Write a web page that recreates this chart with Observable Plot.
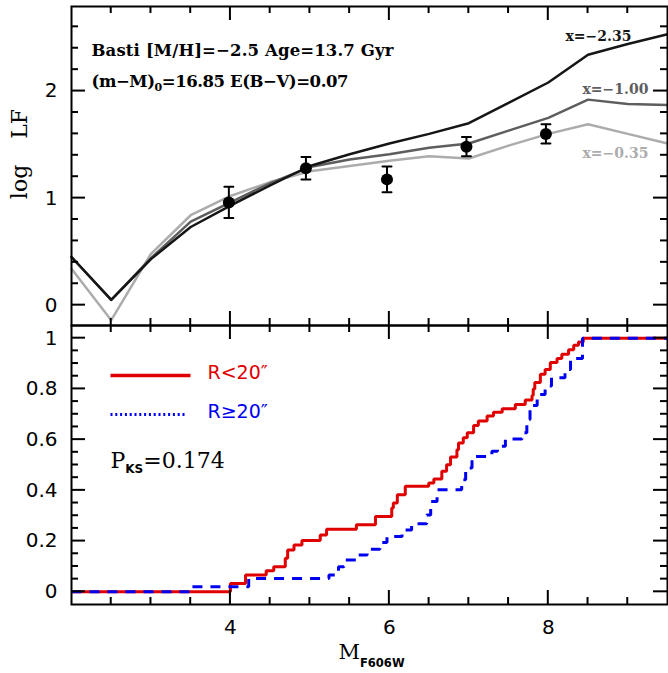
<!DOCTYPE html>
<html>
<head>
<meta charset="utf-8">
<script src="https://cdn.jsdelivr.net/npm/d3@7"></script>
<script src="https://cdn.jsdelivr.net/npm/@observablehq/plot@0.6"></script>
<style>
  body { margin: 0; background: #fff; }
  #wrap { position: relative; width: 668px; height: 673px; }
  #wrap svg { position: absolute; left: 0; overflow: visible; background: transparent; }
</style>
</head>
<body>
<div id="wrap"></div>
<script>
// ---------- data ----------
const magBins = [2.0, 2.5, 3.0, 3.5, 4.0, 4.5, 5.0, 5.5, 6.0, 6.5, 7.0, 7.5, 8.0, 8.5, 9.0, 9.5];
const lfSteep = [0.45, 0.05, 0.43, 0.73, 0.93, 1.12, 1.30, 1.41, 1.51, 1.60, 1.70, 1.89, 2.08, 2.34, 2.44, 2.53]; // x=-2.35
const lfMid   = [0.45, 0.05, 0.44, 0.78, 0.96, 1.14, 1.29, 1.36, 1.41, 1.47, 1.51, 1.63, 1.75, 1.92, 1.88, 1.87]; // x=-1.00
const lfFlat  = [0.34, -0.14, 0.48, 0.84, 1.02, 1.15, 1.25, 1.30, 1.35, 1.39, 1.37, 1.49, 1.60, 1.69, 1.60, 1.51]; // x=-0.35

const obsMag = [3.98, 4.95, 5.97, 6.97, 7.97];
const obsLogLF = [0.96, 1.28, 1.175, 1.48, 1.60];
const obsErr = [0.145, 0.105, 0.12, 0.09, 0.09];

const innerMag = [2.0, 4.0, 4.19, 4.45, 4.545, 4.69, 4.72, 4.80, 4.90, 5.13, 5.21, 5.585, 5.825, 6.03, 6.05, 6.10, 6.20, 6.495, 6.56, 6.66, 6.72, 6.77, 6.85, 6.87, 6.93, 6.98, 7.06, 7.12, 7.23, 7.31, 7.42, 7.585, 7.71, 7.795, 7.81, 7.83, 7.90, 7.96, 8.025, 8.11, 8.17, 8.255, 8.32, 8.38, 8.44, 9.5];
const innerCum = [0, 0.033, 0.066, 0.083, 0.099, 0.132, 0.165, 0.185, 0.202, 0.224, 0.247, 0.264, 0.297, 0.33, 0.35, 0.383, 0.416, 0.429, 0.445, 0.475, 0.501, 0.532, 0.56, 0.587, 0.607, 0.627, 0.656, 0.673, 0.693, 0.708, 0.722, 0.739, 0.756, 0.774, 0.80, 0.825, 0.858, 0.877, 0.904, 0.920, 0.937, 0.954, 0.972, 0.985, 1.0, 1.0];

const outerMag = [2.0, 3.5, 4.23, 5.24, 5.36, 5.43, 5.59, 5.72, 5.88, 5.97, 6.16, 6.28, 6.47, 6.52, 6.60, 6.91, 6.96, 7.04, 7.29, 7.36, 7.46, 7.67, 7.73, 7.77, 7.86, 7.96, 8.04, 8.21, 8.28, 8.43, 9.5];
const outerCum = [0, 0.02, 0.053, 0.066, 0.099, 0.125, 0.145, 0.168, 0.194, 0.218, 0.244, 0.268, 0.303, 0.356, 0.402, 0.442, 0.488, 0.534, 0.554, 0.574, 0.603, 0.627, 0.679, 0.735, 0.778, 0.811, 0.844, 0.877, 0.920, 1.0, 1.0];

const xTickMajor = [4, 6, 8];
const xTickMinor = [2.5, 3, 3.5, 4.5, 5, 5.5, 6.5, 7, 7.5, 8.5, 9];
const xTickLabels = [4, 6, 8];
const lfTickMajor = [0, 1, 2];
const lfTickMinor = [0.2, 0.4, 0.6, 0.8, 1.2, 1.4, 1.6, 1.8, 2.2, 2.4, 2.6];
const cumTickMajor = [0, 0.2, 0.4, 0.6, 0.8, 1];
const cumTickMinor = [0.05, 0.1, 0.15, 0.25, 0.3, 0.35, 0.45, 0.5, 0.55, 0.65, 0.7, 0.75, 0.85, 0.9, 0.95];

// ---------- tables ----------
const modelRows = magBins.map((m, i) => ({mag: m, steep: lfSteep[i], mid: lfMid[i], flat: lfFlat[i]}));
const obsRows = obsMag.map((m, i) => ({mag: m, lf: obsLogLF[i], err: obsErr[i]}));
const innerRows = innerMag.map((m, i) => ({mag: m, cum: innerCum[i]}));
const outerRows = outerMag.map((m, i) => ({mag: m, cum: outerCum[i]}));

// ---------- styles ----------
const RED = "#e00000", BLUE = "#0000f0";
const C_STEEP = "#161616", C_MID = "#5e5e5e", C_FLAT = "#acacac";
const TICKFONT = "DejaVu Sans";
const ANNFONT = "DejaVu Serif";
const W = 668, ML = 71, MR = 1;

const spike = {draw(ctx, l) { ctx.moveTo(0, 0); ctx.lineTo(0, -l); }};
const cap = {draw(ctx, l) { ctx.moveTo(-l / 2, 0); ctx.lineTo(l / 2, 0); }};

// inward ticks on all four sides, placed through the plot's own scales
function drawTicks(svg, xMaj, xMin, yMaj, yMin) {
  const sx = svg.scale("x"), sy = svg.scale("y");
  const [xa, xb] = sx.range, [ya, yb] = sy.range; // ya = bottom, yb = top
  const g = d3.select(svg).append("g").attr("stroke", "black").attr("stroke-width", 2).attr("fill", "none");
  const add = (a, b, c, d) => g.append("line").attr("x1", a).attr("y1", b).attr("x2", c).attr("y2", d);
  for (const [ticks, len] of [[xMaj, 14], [xMin, 7]]) for (const v of ticks) {
    const x = sx.apply(v);
    add(x, ya, x, ya - len);
    add(x, yb, x, yb + len);
  }
  for (const [ticks, len] of [[yMaj, 14], [yMin, 7]]) for (const v of ticks) {
    const y = sy.apply(v);
    add(xa, y, xa + len, y);
    add(xb, y, xb - len, y);
  }
}

function rich(svg, content, parts, textLength) {
  const t = d3.select(svg).selectAll("text").filter(function() { return this.textContent === content; });
  if (t.empty()) return;
  t.text(null);
  for (const p of parts) {
    const s = t.append("tspan").text(p.t);
    for (const k of ["font-family", "font-size", "font-weight", "dy", "dx", "fill"]) if (p[k] != null) s.attr(k, p[k]);
  }
  if (textLength) t.attr("textLength", textLength).attr("lengthAdjust", "spacing");
}

const xDom = [2, 9.5];
const lfDom = [-0.19, 2.79];
const cumDom = [-0.05, 1.05];

// ---------- top panel ----------
const TOP_H = 326, TOP_MT = 6, TOP_MB = 1;
const topPlot = Plot.plot({
  width: W, height: TOP_H,
  marginLeft: ML, marginRight: MR, marginTop: TOP_MT, marginBottom: TOP_MB,
  x: {domain: xDom, axis: null},
  y: {domain: lfDom},
  style: {background: "transparent", overflow: "visible"},
  marks: [
    Plot.line(modelRows, {x: "mag", y: "flat", stroke: C_FLAT, strokeWidth: 2.5}),
    Plot.line(modelRows, {x: "mag", y: "mid", stroke: C_MID, strokeWidth: 2.5}),
    Plot.line(modelRows, {x: "mag", y: "steep", stroke: C_STEEP, strokeWidth: 2.5}),
    Plot.ruleX(obsRows, {x: "mag", y1: d => d.lf - d.err, y2: d => d.lf + d.err, stroke: "black", strokeWidth: 2}),
    Plot.vector(obsRows, {x: "mag", y: d => d.lf + d.err, length: 9, anchor: "start", shape: cap, stroke: "black", strokeWidth: 2}),
    Plot.vector(obsRows, {x: "mag", y: d => d.lf - d.err, length: 9, anchor: "start", shape: cap, stroke: "black", strokeWidth: 2}),
    Plot.dot(obsRows, {x: "mag", y: "lf", r: 6, fill: "black", stroke: null}),
    Plot.frame({stroke: "black", strokeWidth: 2}),
    Plot.axisY(lfTickMajor, {tickSize: 0, tickPadding: 14, fontSize: 20, fontFamily: TICKFONT, tickFormat: d => String(d), label: null}),
    Plot.text(["log LF"], {text: d => d, frameAnchor: "left", rotate: -90, dx: -45, dy: -12, textAnchor: "middle", lineAnchor: "bottom", fontFamily: ANNFONT, fontSize: 22}),
    Plot.text(["Basti [M/H]=−2.5 Age=13.7 Gyr"], {text: d => d, frameAnchor: "top-left", dx: 20, dy: 49, textAnchor: "start", lineAnchor: "bottom", fontFamily: ANNFONT, fontWeight: "bold", fontSize: 16.5}),
    Plot.text(["(m−M)0=16.85 E(B−V)=0.07"], {text: d => d, frameAnchor: "top-left", dx: 20, dy: 80, textAnchor: "start", lineAnchor: "bottom", fontFamily: ANNFONT, fontWeight: "bold", fontSize: 16.5}),
    Plot.text(["x=−2.35"], {text: d => d, frameAnchor: "top-left", dx: 494, dy: 34, textAnchor: "start", lineAnchor: "bottom", fontFamily: ANNFONT, fontWeight: "bold", fontSize: 14, fill: C_STEEP}),
    Plot.text(["x=−1.00"], {text: d => d, frameAnchor: "top-left", dx: 511, dy: 87, textAnchor: "start", lineAnchor: "bottom", fontFamily: ANNFONT, fontWeight: "bold", fontSize: 14, fill: C_MID}),
    Plot.text(["x=−0.35"], {text: d => d, frameAnchor: "top-left", dx: 511, dy: 151, textAnchor: "start", lineAnchor: "bottom", fontFamily: ANNFONT, fontWeight: "bold", fontSize: 14, fill: C_FLAT})
  ]
});

// ---------- bottom panel ----------
const BOT_H = 349, BOT_MT = 1, BOT_MB = 69;
const botPlot = Plot.plot({
  width: W, height: BOT_H,
  marginLeft: ML, marginRight: MR, marginTop: BOT_MT, marginBottom: BOT_MB,
  x: {domain: xDom},
  y: {domain: cumDom},
  style: {background: "transparent", overflow: "visible"},
  marks: [
    Plot.line(innerRows, {x: "mag", y: "cum", curve: "step-after", stroke: RED, strokeWidth: 3, strokeLinejoin: "miter", strokeLinecap: "butt"}),
    Plot.line(outerRows, {x: "mag", y: "cum", curve: "step-after", stroke: BLUE, strokeWidth: 3, strokeDasharray: "10,8", strokeLinejoin: "miter", strokeLinecap: "butt"}),
    Plot.frame({stroke: "black", strokeWidth: 2}),
    Plot.axisY(cumTickMajor, {tickSize: 0, tickPadding: 14, fontSize: 20, fontFamily: TICKFONT, tickFormat: d => String(d), label: null}),
    Plot.axisX(xTickLabels, {tickSize: 0, tickPadding: 15, fontSize: 20, fontFamily: TICKFONT, tickFormat: d => String(d), label: null}),
    Plot.vector([0], {frameAnchor: "top-left", dx: 39, dy: 50, rotate: 90, length: 80, anchor: "start", shape: spike, stroke: RED, strokeWidth: 3.5, strokeLinecap: "butt"}),
    Plot.vector([0], {frameAnchor: "top-left", dx: 39, dy: 89, rotate: 90, length: 74, anchor: "start", shape: spike, stroke: BLUE, strokeWidth: 3, strokeDasharray: "2,2.8", strokeLinecap: "butt"}),
    Plot.text(["R<20″"], {text: d => d, frameAnchor: "top-left", dx: 136, dy: 53, textAnchor: "start", lineAnchor: "bottom", fontFamily: TICKFONT, fontSize: 19, fill: RED}),
    Plot.text(["R≥20″"], {text: d => d, frameAnchor: "top-left", dx: 136, dy: 92, textAnchor: "start", lineAnchor: "bottom", fontFamily: TICKFONT, fontSize: 19, fill: BLUE}),
    Plot.text(["PKS=0.174"], {text: d => d, frameAnchor: "top-left", dx: 39, dy: 142, textAnchor: "start", lineAnchor: "bottom", fontFamily: ANNFONT, fontSize: 22, fill: "black"}),
    Plot.text(["MF606W"], {text: d => d, frameAnchor: "bottom-left", dx: 267, dy: 54, textAnchor: "start", lineAnchor: "bottom", fontFamily: ANNFONT, fontSize: 21, fill: "black"})
  ]
});

rich(topPlot, "log LF", [{t: "log"}, {t: "LF", dx: 26}]);
rich(topPlot, "Basti [M/H]=−2.5 Age=13.7 Gyr", [{t: "Basti [M/H]=−2.5 Age=13.7 Gyr"}], 302);
rich(topPlot, "(m−M)0=16.85 E(B−V)=0.07", [
  {t: "(m−M)"},
  {t: "0", "font-size": 11, dy: 4},
  {t: "=16.85 E(B−V)=0.07", dy: -4}
], 257);
rich(botPlot, "PKS=0.174", [
  {t: "P"},
  {t: "KS", "font-family": "DejaVu Sans", "font-weight": "bold", "font-size": 12, dy: 5},
  {t: "=0.174", dy: -5}
]);
rich(botPlot, "MF606W", [
  {t: "M"},
  {t: "F606W", "font-family": "DejaVu Sans", "font-weight": "bold", "font-size": 11.5, dy: 8}
]);

drawTicks(topPlot, xTickMajor, xTickMinor, lfTickMajor, lfTickMinor);
drawTicks(botPlot, xTickMajor, xTickMinor, cumTickMajor, cumTickMinor);

const wrap = document.getElementById("wrap");
topPlot.style.top = "0px";
botPlot.style.top = "324px";
wrap.appendChild(topPlot);
wrap.appendChild(botPlot);
</script>
</body>
</html>
